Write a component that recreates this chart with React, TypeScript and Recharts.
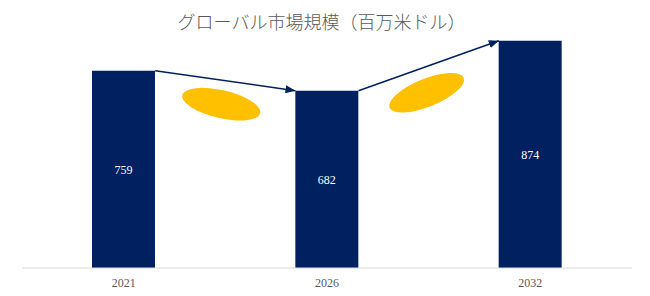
import {
  Bar,
  ComposedChart,
  LabelList,
  Line,
  Scatter,
  XAxis,
  YAxis,
} from "recharts";

const years = ["2021", "2026", "2032"];
const marketSize = [759, 682, 874];
const title = "グローバル市場規模（百万米ドル）";

// growth arrows: from the top-right corner of one bar to the top-left of the next
const arrowFrom = [0, 1];
// decorative ovals between bars (position on the index axis, value axis)
const ovalX = [0.98, 1.99];
const ovalY = [630, 674];
const ovalTilt = [13, -22];

const NAVY = "#002060";
const GOLD = "#FFC000";
const BAR_FRAC = 0.31; // bar width as a share of the category band

const data = years.map((year, i) => ({ year, value: marketSize[i] }));

const arrows = arrowFrom.map((i) => [
  { x: i + 0.5 + BAR_FRAC / 2, v: marketSize[i] },
  { x: i + 1.5 - BAR_FRAC / 2, v: marketSize[i + 1] },
]);

const ovals = ovalX.map((x, i) => ({ x, y: ovalY[i], tilt: ovalTilt[i] }));

function Oval(props: any) {
  const { cx, cy, payload } = props;
  return (
    <ellipse
      cx={cx}
      cy={cy}
      rx={40}
      ry={14}
      fill={GOLD}
      transform={`rotate(${payload.tilt} ${cx} ${cy})`}
    />
  );
}

export default function App() {
  return (
    <div style={{ position: "absolute", left: 0, top: 0, width: 650, height: 296 }}>
      <div
        style={{
          position: "absolute",
          left: 0,
          width: 643,
          top: 9,
          textAlign: "center",
          fontFamily: "'Noto Sans CJK JP', sans-serif",
          fontWeight: 300,
          fontSize: 18,
          lineHeight: "24px",
          color: "#595959",
          zIndex: 1,
        }}
      >
        {title}
      </div>
      <ComposedChart
        width={650}
        height={296}
        data={data}
        margin={{ top: 8, right: 18, left: 22, bottom: 0 }}
      >
        <defs>
          <marker
            id="arrowhead"
            markerUnits="userSpaceOnUse"
            markerWidth={10}
            markerHeight={8}
            refX={10}
            refY={4}
            orient="auto"
          >
            <path d="M0,0 L10,4 L0,8 Z" fill={NAVY} />
          </marker>
        </defs>
        <XAxis
          dataKey="year"
          height={28}
          axisLine={{ stroke: "#d9d9d9", strokeWidth: 1 }}
          tickLine={false}
          tick={{ fontSize: 12, fill: "#595959", fontFamily: "'Liberation Serif', serif", dy: 2 }}
        />
        <XAxis
          xAxisId="n"
          dataKey="x"
          type="number"
          domain={[0, 3]}
          allowDataOverflow
          hide
        />
        <YAxis hide domain={[0, 1000]} />
        <Bar dataKey="value" fill={NAVY} barSize={63} isAnimationActive={false}>
          <LabelList
            dataKey="value"
            position="center"
            fill="#ffffff"
            fontSize={12}
            fontFamily="'Liberation Serif', serif"
          />
        </Bar>
        {arrows.map((pts, i) => (
          <Line
            key={`arrow-${i}`}
            xAxisId="n"
            data={pts}
            dataKey="v"
            stroke={NAVY}
            strokeWidth={1.5}
            dot={false}
            activeDot={false}
            markerEnd="url(#arrowhead)"
            isAnimationActive={false}
          />
        ))}
        <Scatter
          xAxisId="n"
          data={ovals}
          dataKey="y"
          shape={<Oval />}
          isAnimationActive={false}
        />
      </ComposedChart>
    </div>
  );
}
